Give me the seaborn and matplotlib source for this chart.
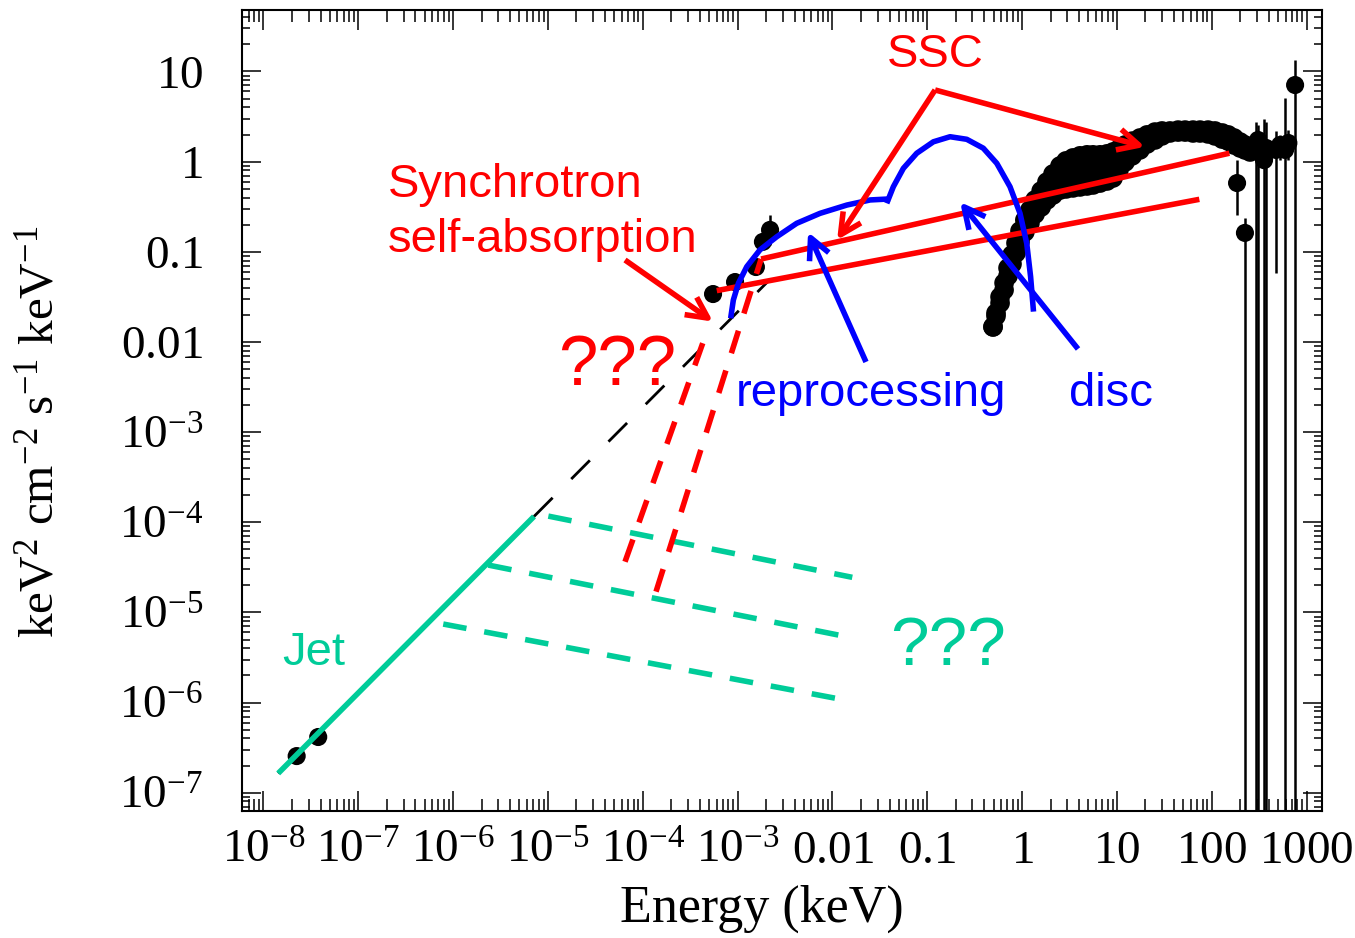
import numpy as np
import matplotlib
matplotlib.use("Agg")
import matplotlib.pyplot as plt
from matplotlib.ticker import FixedLocator, FixedFormatter, LogLocator, NullFormatter
import seaborn as sns

# Broadband spectrum: E in keV, E^2 N(E) in keV^2 cm^-2 s^-1 keV^-1

# --- observed data -------------------------------------------------------
radio_E = [2.24e-8, 3.78e-8]
radio_F = [2.55e-7, 4.15e-7]

oir_E = [5.51e-4, 9.40e-4, 1.56e-3, 1.85e-3, 2.20e-3]
oir_F = [3.40e-2, 4.62e-2, 6.78e-2, 0.129, 0.175]
oir_F_lo = [3.0e-2, 4.2e-2, 6.2e-2, 0.115, 0.119]
oir_F_hi = [3.8e-2, 5.1e-2, 7.4e-2, 0.145, 0.256]

xray_E = [0.494, 0.531, 0.586, 0.646, 0.711, 0.783, 0.863, 0.951, 1.07, 1.21,
          1.37, 1.59, 1.83, 2.12, 2.51, 2.91, 3.44, 4.08, 4.84, 5.60,
          6.64, 7.87, 9.10, 10.5, 12.2, 14.5, 17.5, 20.8, 25.2, 29.9,
          36.3, 44.2, 52.4, 63.5, 75.3, 91.4, 108, 129, 149, 172,
          199, 224, 254]
xray_F_hi = [0.0147, 0.0209, 0.0316, 0.0451, 0.0661, 0.0923, 0.125, 0.170, 0.225, 0.291,
             0.376, 0.473, 0.594, 0.730, 0.895, 1.02, 1.10, 1.16, 1.19, 1.19,
             1.19, 1.22, 1.28, 1.38, 1.53, 1.69, 1.83, 1.98, 2.13, 2.19,
             2.19, 2.24, 2.24, 2.24, 2.24, 2.24, 2.19, 2.08, 1.98, 1.83,
             1.65, 1.53, 1.42]
xray_F_lo = [0.0147, 0.0194, 0.0270, 0.0377, 0.0540, 0.0733, 0.0971, 0.129, 0.166, 0.208,
             0.262, 0.314, 0.376, 0.427, 0.484, 0.498, 0.511, 0.524, 0.537, 0.551,
             0.579, 0.610, 0.659, 0.807, 0.991, 1.16, 1.35, 1.57, 1.74, 1.93,
             2.08, 2.13, 2.13, 2.08, 2.08, 2.03, 1.93, 1.78, 1.69, 1.53,
             1.42, 1.35, 1.28]

hard_E = [185, 224, 293, 308, 356, 374, 476, 526, 593, 643, 757]
hard_F = [0.579, 0.162, 1.35, 1.74, 1.04, 1.42, 1.35, 1.53, 1.35, 1.61, 7.08]
hard_F_hi = [1.04, 0.237, 2.75, 2.55, 2.97, 2.75, 2.19, 1.98, 5.08, 2.24, 13.4]
hard_F_lo = [0.256, 1e-9, 1e-9, 1e-9, 1e-9, 1e-9, 0.0582, 1.04, 1e-9, 1.04, 1e-9]

# --- model sketches --------------------------------------------------------
synch_E = [1.43e-8, 7.13e-6, 2.09e-3]
synch_F = [1.64e-7, 1.16e-4, 4.69e-2]

jet_E = [1.43e-8, 7.13e-6]
jet_F = [1.64e-7, 1.16e-4]

jet_break_E = [[1.01e-5, 1.62e-2], [2.35e-6, 1.25e-2], [7.87e-7, 1.11e-2]]
jet_break_F = [[1.17e-4, 2.45e-5], [3.35e-5, 5.52e-6], [7.43e-6, 1.11e-6]]

ssa_E = [[6.50e-5, 4.35e-4], [1.38e-4, 1.77e-3]]
ssa_F = [[3.65e-5, 1.01e-2], [1.70e-5, 8.32e-2]]

ssc_E = [[6.03e-4, 74.0], [1.77e-3, 153.5]]
ssc_F = [[3.71e-2, 0.382], [8.32e-2, 1.24]]

reproc_E = [8.45e-4, 9.02e-4, 1.02e-3, 1.25e-3, 1.72e-3, 2.59e-3, 4.20e-3,
            7.40e-3, 1.42e-2, 2.50e-2, 4.05e-2]
reproc_F = [1.83e-2, 2.92e-2, 4.48e-2, 6.84e-2, 0.105, 0.147, 0.207,
            0.267, 0.330, 0.376, 0.386]

disc_E = [3.74e-2, 4.39e-2, 5.60e-2, 7.75e-2, 0.116, 0.174, 0.261, 0.390,
          0.541, 0.746, 0.951, 1.12, 1.23, 1.32]
disc_F = [0.345, 0.527, 0.843, 1.24, 1.66, 1.89, 1.77, 1.41,
          0.959, 0.527, 0.267, 0.124, 5.30e-2, 2.17e-2]

# annotation arrows: (start, tip)
ssc_root = (0.121, 6.24)
ssc_tips = [(19.8, 1.46), (1.12e-2, 0.135)]
ssa_arrow = [(6.50e-5, 8.11e-2), (5.51e-4, 1.68e-2)]
reproc_arrow = [(2.26e-2, 6.00e-3), (5.53e-3, 0.166)]
disc_arrow = [(3.89, 8.36e-3), (0.222, 0.357)]

# --- axes ticks ------------------------------------------------------------
x_ticks = [1e-8, 1e-7, 1e-6, 1e-5, 1e-4, 1e-3, 1e-2, 1e-1, 1, 10, 100, 1000]
x_labels = [r"$10^{-8}$", r"$10^{-7}$", r"$10^{-6}$", r"$10^{-5}$", r"$10^{-4}$",
            r"$10^{-3}$", r"$0.01$", r"$0.1$", r"$1$", r"$10$", r"$100$", r"$1000$"]
y_ticks = [1e-7, 1e-6, 1e-5, 1e-4, 1e-3, 1e-2, 1e-1, 1, 10]
y_labels = [r"$10^{-7}$", r"$10^{-6}$", r"$10^{-5}$", r"$10^{-4}$", r"$10^{-3}$",
            r"$0.01$", r"$0.1$", r"$1$", r"$10$"]

RED = "#FF0000"
BLUE = "#0000FF"
TEAL = "#00CC99"
LW = 4.0

sns.set_theme(style="ticks")
plt.rcParams.update({
    "font.family": ["Liberation Serif", "DejaVu Serif"],
    "mathtext.fontset": "custom",
    "mathtext.rm": "Liberation Serif",
    "mathtext.it": "Liberation Serif:italic",
    "mathtext.bf": "Liberation Serif:bold",
    "lines.scale_dashes": False,
    "axes.linewidth": 1.5,
    "axes.edgecolor": "black",
    "xtick.color": "black",
    "ytick.color": "black",
    "text.color": "black",
    "axes.labelcolor": "black",
})

fig = plt.figure(figsize=(13.55, 9.38), dpi=100)
ax = fig.add_axes([242 / 1355, 1 - 811 / 938, 1080 / 1355, 801 / 938])
ax.set_xscale("log")
ax.set_yscale("log")
ax.set_xlim(5.94e-9, 1455)
ax.set_ylim(6.27e-8, 48.1)

SANS = ["Liberation Sans", "DejaVu Sans"]


def curve(E, F, color, lw, dashes=None, z=4):
    sns.lineplot(x=E, y=F, sort=False, estimator=None, color=color,
                 linewidth=lw, ax=ax, zorder=z, legend=False)
    line = ax.lines[-1]
    line.set_linewidth(lw)
    line.set_solid_capstyle("butt")
    line.set_dash_capstyle("butt")
    line.set_solid_joinstyle("round")
    if dashes is not None:
        line.set_dashes(dashes)
    return line


def arrow(start, tip, color):
    ax.annotate("", xy=tip, xytext=start, xycoords="data", textcoords="data",
                arrowprops=dict(arrowstyle="->,head_length=0.4,head_width=0.2",
                                color=color, lw=LW, mutation_scale=38,
                                shrinkA=0, shrinkB=0, capstyle="butt"),
                zorder=6)


# extrapolated synchrotron power law (solid under the jet line, then dashed)
curve(synch_E[:2], synch_F[:2], "black", 2.0, z=2)
curve(synch_E[1:], synch_F[1:], "black", 2.0, dashes=(19, 19), z=2)

# X-ray spectrum
ax.fill_between(xray_E, xray_F_lo, xray_F_hi, color="black", lw=0, zorder=3)
sns.scatterplot(x=xray_E + xray_E, y=xray_F_hi + xray_F_lo, s=200, color="black",
                edgecolor="none", ax=ax, zorder=3, legend=False)

# hard X-ray points with error bars
hF = np.array(hard_F)
ax.errorbar(hard_E, hard_F, yerr=[hF - np.array(hard_F_lo), np.array(hard_F_hi) - hF],
            fmt="none", ecolor="black", elinewidth=1.8, capsize=0, zorder=3)
sns.scatterplot(x=hard_E, y=hard_F, s=170, color="black", edgecolor="none",
                ax=ax, zorder=3, legend=False)

# optical / IR points
oF = np.array(oir_F)
ax.errorbar(oir_E, oir_F, yerr=[oF - np.array(oir_F_lo), np.array(oir_F_hi) - oF],
            fmt="none", ecolor="black", elinewidth=1.8, capsize=0, zorder=3)
sns.scatterplot(x=oir_E, y=oir_F, s=170, color="black", edgecolor="none",
                ax=ax, zorder=3, legend=False)

# radio points
sns.scatterplot(x=radio_E, y=radio_F, s=170, color="black", edgecolor="none",
                ax=ax, zorder=3, legend=False)

# jet
curve(jet_E, jet_F, TEAL, LW, z=4)
for E, F in zip(jet_break_E, jet_break_F):
    curve(E, F, TEAL, LW, dashes=(17, 13), z=4)

# self-absorbed synchrotron turnovers
for E, F in zip(ssa_E, ssa_F):
    curve(E, F, RED, LW, dashes=(17, 13), z=5)

# SSC components
for E, F in zip(ssc_E, ssc_F):
    curve(E, F, RED, LW, z=5)

# reprocessed and disc emission
curve(reproc_E, reproc_F, BLUE, LW, z=5)
curve(disc_E, disc_F, BLUE, LW, z=5)

# annotations
for tip in ssc_tips:
    arrow(ssc_root, tip, RED)
arrow(*ssa_arrow, RED)
arrow(*reproc_arrow, BLUE)
arrow(*disc_arrow, BLUE)

ax.text(0.121, 15.2, "SSC", color=RED, fontsize=34, family=SANS,
        ha="center", va="center", zorder=7)
ax.text(2.05e-7, 0.408, "Synchrotron", color=RED, fontsize=34, family=SANS,
        ha="left", va="baseline", zorder=7)
ax.text(2.05e-7, 0.100, "self-absorption", color=RED, fontsize=34, family=SANS,
        ha="left", va="baseline", zorder=7)
ax.text(5.35e-5, 3.33e-3, "???", color=RED, fontsize=51, family=SANS,
        ha="center", va="baseline", zorder=7)
ax.text(2.55e-2, 1.95e-3, "reprocessing", color=BLUE, fontsize=34, family=SANS,
        ha="center", va="baseline", zorder=7)
ax.text(8.57, 1.95e-3, "disc", color=BLUE, fontsize=34, family=SANS,
        ha="center", va="baseline", zorder=7)
ax.text(0.164, 2.61e-6, "???", color=TEAL, fontsize=50, family=SANS,
        ha="center", va="baseline", zorder=7)
ax.text(3.37e-8, 2.61e-6, "Jet", color=TEAL, fontsize=34, family=SANS,
        ha="center", va="baseline", zorder=7)

# ticks
ax.xaxis.set_major_locator(FixedLocator(x_ticks))
ax.xaxis.set_major_formatter(FixedFormatter(x_labels))
ax.yaxis.set_major_locator(FixedLocator(y_ticks))
ax.yaxis.set_major_formatter(FixedFormatter(y_labels))
for axis in (ax.xaxis, ax.yaxis):
    axis.set_minor_locator(LogLocator(base=10, subs=np.arange(2, 10), numticks=60))
    axis.set_minor_formatter(NullFormatter())

ax.tick_params(which="both", direction="in", top=True, right=True, width=1.1,
               labelsize=34)
ax.tick_params(axis="x", which="major", length=14.4, pad=14)
ax.tick_params(axis="x", which="minor", length=8.6)
ax.tick_params(axis="y", which="major", length=13.7, pad=28)
ax.tick_params(axis="y", which="minor", length=6)
for s in ax.spines.values():
    s.set_visible(True)
    s.set_linewidth(1.5)

ax.set_xlabel("Energy (keV)", fontsize=37.5)
ax.xaxis.set_label_coords(0.4815, -0.092)
ax.set_ylabel(r"keV$^2$ cm$^{-2}$ s$^{-1}$ keV$^{-1}$", fontsize=35.5)
ax.yaxis.set_label_coords(-0.166, 0.473)

fig.savefig("out.png", dpi=100)
